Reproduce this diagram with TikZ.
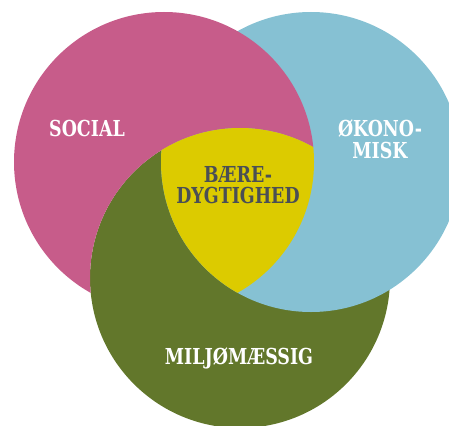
\documentclass[tikz,border=0pt]{standalone}
\usepackage{fontspec}
\setmainfont[FakeStretch=0.88]{DejaVu Serif Condensed}
\definecolor{socialpink}{HTML}{C75C8A}
\definecolor{okoblue}{HTML}{86C1D3}
\definecolor{miljogreen}{HTML}{62772B}
\definecolor{baereyellow}{HTML}{DCCB00}
\definecolor{labelgray}{HTML}{4A4F55}
\tikzset{
  lbl/.style={align=center, font=\bfseries\fontsize{22}{22}\selectfont, inner sep=0pt, text=white},
}
\begin{document}
\begin{tikzpicture}[x=1pt,y=-1pt]
    \useasboundingbox (0,0) rectangle (449,425);

    \coordinate (social) at (164,162);
    \coordinate (oko) at (311,162);
    \coordinate (miljo) at (240,278);

    \fill[miljogreen] (miljo) circle (150pt);
    \fill[okoblue] (oko) circle (150pt);
        \begin{scope}[even odd rule]
        \clip (-10,-10) rectangle (460,440) (miljo) circle (150pt);
        \fill[socialpink] (social) circle (150pt);
        \end{scope}
        \begin{scope}
        \clip (miljo) circle (150pt);
            \clip (social) circle (150pt);
            \fill[baereyellow] (oko) circle (150pt);
        \end{scope}

    \node[lbl] (socialtxt) at (87,128){SOCIAL};
    \node[lbl] (okotxt) at (380,139){ØKONO-\\MISK};
    \node[lbl] (miljotxt) at (239,358){MILJØMÆSSIG};
    \node[lbl, text=labelgray, font=\bfseries\fontsize{22}{20.5}\selectfont] (baeretxt) at (238,185){BÆRE-\\DYGTIGHED};
\end{tikzpicture}
\end{document}
